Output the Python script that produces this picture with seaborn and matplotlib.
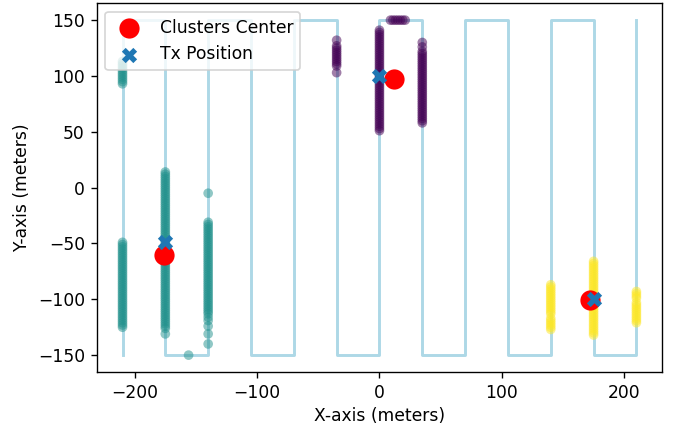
import numpy as np
import pandas as pd
import seaborn as sns
import matplotlib
matplotlib.use("Agg")
import matplotlib.pyplot as plt

# flight path (serpentine sweep)
path_x = [-210, -210, -175, -175, -140, -140, -105, -105, -70, -70, -35, -35, 0, 0,
          35, 35, 70, 70, 105, 105, 140, 140, 175, 175, 210, 210]
path_y = [-150, 150, 150, -150, -150, 150, 150, -150, -150, 150, 150, -150, -150, 150,
          150, -150, -150, 150, 150, -150, -150, 150, 150, -150, -150, 150]

# cluster 1 (teal) samples
teal_m210_low = [-125, -123, -121, -119, -117, -115, -113, -111, -109, -107, -105, -103,
                 -101, -99, -97, -95, -93, -91, -89, -87, -85, -83, -81, -79, -77, -75,
                 -73, -71, -69, -67, -65, -63, -61, -59, -57, -55, -53, -51, -49]
teal_m210_high = [93, 95, 97, 99, 101, 103, 105, 107, 109, 111, 113]
teal_m175 = [-131, -126, -124, -122, -120, -118, -116, -114, -112, -110, -108, -106, -104,
             -102, -100, -98, -96, -94, -92, -90, -88, -86, -84, -82, -80, -78, -76, -74,
             -72, -70, -68, -66, -64, -62, -60, -58, -56, -54, -52, -50, -48, -46, -44,
             -42, -40, -38, -36, -34, -32, -30, -28, -26, -24, -22, -20, -18, -16, -14,
             -12, -10, -8, -6, -4, -2, 0, 2, 4, 6, 8, 10, 12, 14]
teal_m140 = [-140, -131, -124, -119, -116, -113, -111, -109, -107, -105, -103, -101, -99,
             -97, -95, -93, -91, -89, -87, -85, -83, -81, -79, -77, -75, -73, -71, -69,
             -67, -65, -63, -61, -59, -57, -55, -53, -51, -49, -47, -45, -43, -41, -39,
             -37, -35, -33, -31, -5]
teal_stray_x = [-156]
teal_stray_y = [-150]

# cluster 0 (purple) samples
purple_m35 = [103, 109, 111, 113, 115, 117, 119, 121, 123, 125, 127, 132]
purple_0 = [51, 53, 55, 57, 59, 61, 63, 65, 67, 69, 71, 73, 75, 77, 79, 81, 83, 85, 87,
            89, 91, 93, 95, 97, 99, 101, 103, 105, 107, 109, 111, 113, 115, 117, 119, 121,
            123, 125, 127, 129, 131, 133, 135, 137, 139, 141]
purple_35 = [58, 60, 62, 64, 66, 68, 70, 72, 74, 76, 78, 80, 82, 84, 86, 88, 90, 92, 94,
             96, 98, 100, 102, 104, 106, 108, 110, 112, 114, 116, 118, 120, 122, 126, 130]
purple_top_x = [9, 11, 13, 15, 17, 19, 21]
purple_top_y = [150, 150, 150, 150, 150, 150, 150]

# cluster 2 (yellow) samples
yellow_140 = [-127, -125, -123, -121, -119, -117, -113, -111, -109, -107, -105, -103, -101,
              -99, -97, -95, -93, -91, -89, -87]
yellow_175 = [-132, -130, -128, -126, -124, -122, -120, -118, -116, -114, -112, -110, -108,
              -106, -104, -102, -100, -98, -96, -94, -92, -90, -88, -86, -84, -82, -80,
              -78, -76, -74, -72, -70, -68, -66]
yellow_210 = [-121, -119, -117, -115, -113, -111, -109, -107, -105, -103, -99, -97, -95, -93]

center_x = [-176, 11.5, 172]
center_y = [-60, 97, -101]
tx_x = [-175, 0, 175]
tx_y = [-49, 100, -100]

runs = [
    (1, -210, teal_m210_low), (1, -210, teal_m210_high), (1, -175, teal_m175),
    (1, -140, teal_m140),
    (0, -35, purple_m35), (0, 0, purple_0), (0, 35, purple_35),
    (2, 140, yellow_140), (2, 175, yellow_175), (2, 210, yellow_210),
]
frames = [pd.DataFrame({"x": [xc] * len(ys), "y": ys, "cluster": c}) for c, xc, ys in runs]
frames.append(pd.DataFrame({"x": teal_stray_x, "y": teal_stray_y, "cluster": 1}))
frames.append(pd.DataFrame({"x": purple_top_x, "y": purple_top_y, "cluster": 0}))
df = pd.concat(frames, ignore_index=True)

DPI = 123
fig, ax = plt.subplots(figsize=(677 / DPI, 425 / DPI), dpi=DPI)
fig.subplots_adjust(left=0.143, right=0.978, top=0.992, bottom=0.125)

sns.lineplot(x=path_x, y=path_y, sort=False, estimator=None, color="lightblue",
             linewidth=1.7, zorder=0.5, ax=ax)
sns.scatterplot(data=df, x="x", y="y", hue="cluster", palette="viridis", hue_norm=(0, 2),
                alpha=0.5, s=32, linewidth=0, legend=False, zorder=1, ax=ax)
sns.scatterplot(x=center_x, y=center_y, color="red", s=140, linewidth=0,
                label="Clusters Center", zorder=2, ax=ax)
sns.scatterplot(x=tx_x, y=tx_y, color="#1f77b4", marker="X", s=80, linewidth=0,
                label="Tx Position", zorder=3, ax=ax)

ax.set_xlim(-231, 231)
ax.set_ylim(-165, 165)
ax.set_xlabel("X-axis (meters)", labelpad=3)
ax.set_ylabel("Y-axis (meters)")
ax.legend(loc="upper left")

plt.savefig("out.png", dpi=DPI)
